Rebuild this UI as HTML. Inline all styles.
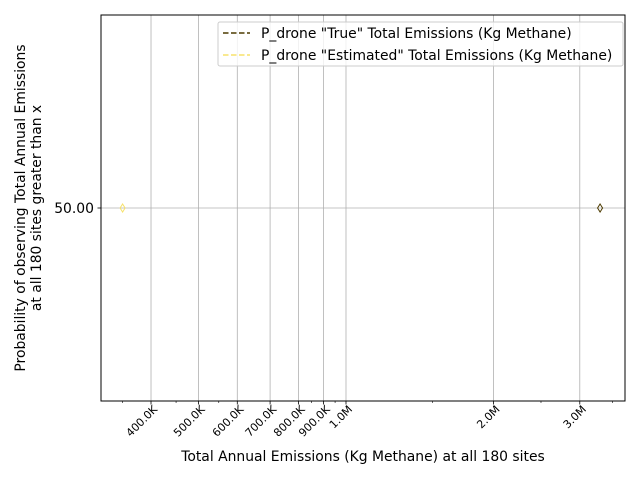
<!DOCTYPE html>
<html><head><meta charset="utf-8"><style>body{margin:0;background:#fff}svg{display:block}text{font-family:"DejaVu Sans","Liberation Sans",sans-serif}</style></head>
<body>
<svg id="c" width="640" height="480" xmlns="http://www.w3.org/2000/svg">
<g id="grid"></g>
<g id="marks"></g>
<rect x="101" y="15" width="524" height="386" fill="none" stroke="#000" stroke-width="1"/>
<g id="axes"></g>
<text x="363" y="461" font-size="13.9" text-anchor="middle">Total Annual Emissions (Kg Methane) at all 180 sites</text>
<text transform="translate(28,208) rotate(-90)" font-size="13.9" text-anchor="middle"><tspan x="0" dy="-3">Probability of observing Total Annual Emissions</tspan><tspan x="0" dy="16">at all 180 sites greater than x</tspan></text>
<g>
<rect x="218" y="22" width="405" height="44" rx="2" fill="#fff" fill-opacity="0.8" stroke="#ccc"/>
<line x1="223" y1="33" x2="250" y2="33" stroke="#4d3b00" stroke-width="1.5" stroke-dasharray="5.5,2.5"/>
<text x="261" y="38" font-size="13.9">P_drone "True" Total Emissions (Kg Methane)</text>
<line x1="223" y1="55" x2="250" y2="55" stroke="#f7e26b" stroke-width="1.5" stroke-dasharray="5.5,2.5"/>
<text x="261" y="60" font-size="13.9">P_drone "Estimated" Total Emissions (Kg Methane)</text>
</g>
</svg>
<script>
const majorTicks=[400000,500000,600000,700000,800000,900000,1000000,2000000,3000000];
const majorLabels=["400.0K","500.0K","600.0K","700.0K","800.0K","900.0K","1.0M","2.0M","3.0M"];
const minorTicks=[350000,450000,550000,850000,950000,1500000,2500000,3500000];
const yTicks=[50];
const yLabels=["50.00"];
const seriesTrueX=[3300000];
const seriesTrueY=[50];
const seriesEstX=[350000];
const seriesEstY=[50];
const NS="http://www.w3.org/2000/svg";
function xs(v){return 346+490*Math.log10(v/1e6);}
function ys(v){return 208-(v-50)*3.86;}
function mk(tag,a,p){const e=document.createElementNS(NS,tag);for(const k in a)e.setAttribute(k,a[k]);p.appendChild(e);return e;}
const g=document.getElementById('grid'),ax=document.getElementById('axes'),m=document.getElementById('marks');
majorTicks.forEach((v,i)=>{const x=xs(v);
const l=mk('line',{x1:x,y1:15,x2:x,y2:401,stroke:'#b0b0b0','stroke-width':0.8},g);


const t=mk('line',{x1:x,y1:401,x2:x,y2:404.5,stroke:'#000','stroke-width':0.8},ax);


const tx=mk('text',{x:0,y:0,'font-size':11,'text-anchor':'end',transform:`translate(${x+7},${410}) rotate(-45)`},ax);
tx.textContent=majorLabels[i];

});
minorTicks.forEach(v=>{const x=xs(v);
const t=mk('line',{x1:x,y1:401,x2:x,y2:403,stroke:'#000','stroke-width':0.6},ax);

});
yTicks.forEach((v,i)=>{const y=ys(v);
const l=mk('line',{x1:101,y1:y,x2:625,y2:y,stroke:'#b0b0b0','stroke-width':0.8},g);


const t=mk('line',{x1:97.5,y1:y,x2:101,y2:y,stroke:'#000','stroke-width':0.8},ax);


const tx=mk('text',{x:94,y:y+5,'font-size':13.9,'text-anchor':'end'},ax);
tx.textContent=yLabels[i];

});
function diamond(x,y,c,name){const p=mk('path',{d:`M${x},${y-4}L${x+2.5},${y}L${x},${y+4}L${x-2.5},${y}Z`,fill:'none',stroke:c,'stroke-width':1},m);

}
seriesTrueX.forEach((v,i)=>diamond(xs(v),ys(seriesTrueY[i]),'#4d3b00','true-emissions-point'));
seriesEstX.forEach((v,i)=>diamond(xs(v),ys(seriesEstY[i]),'#f7e26b','estimated-emissions-point'));
</script>
</body></html>
